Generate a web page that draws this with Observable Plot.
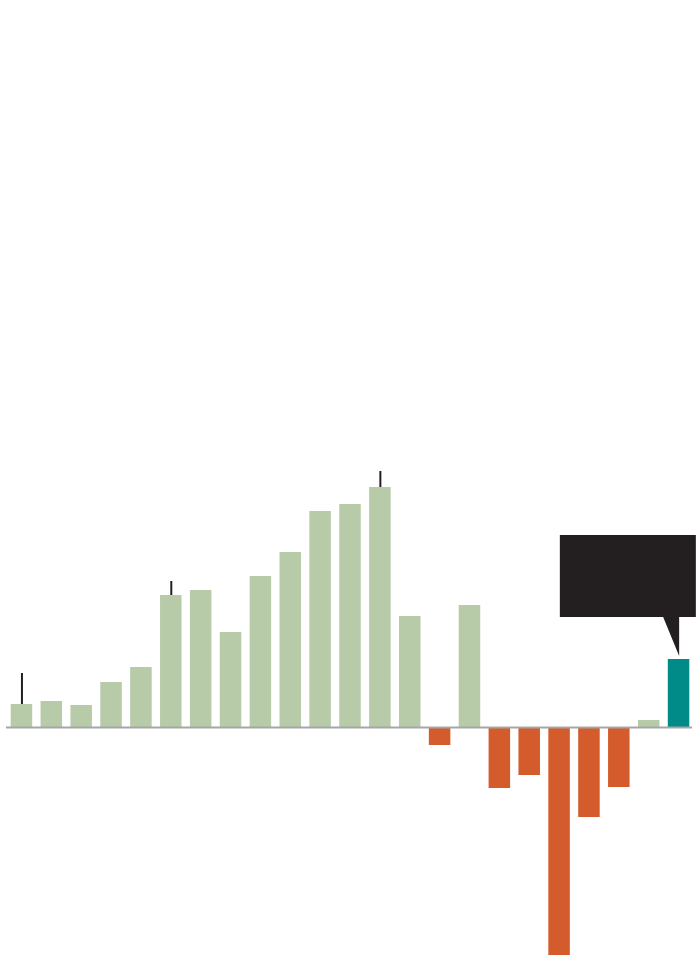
<!DOCTYPE html>
<html>
<head>
<meta charset="utf-8">
<script src="https://cdn.jsdelivr.net/npm/d3@7"></script>
<script src="https://cdn.jsdelivr.net/npm/@observablehq/plot@0.6"></script>
<style>
  html, body { margin: 0; padding: 0; background: #fff; }
  #chart svg { display: block; }
</style>
</head>
<body>
<div id="chart"></div>
<script>
// Categories (periods) and values
const periods = ["1","2","3","4","5","6","7","8","9","10","11","12","13","14","15","16","17","18","19","20","21","22","23"];
const values  = [2.3, 2.6, 2.2, 4.5, 6.0, 13.2, 13.7, 9.5, 15.1, 17.5, 21.6, 22.3, 24.0, 11.1, -1.8, 12.2, -6.1, -4.8, -22.8, -9.0, -6.0, 0.7, 6.8];
// Small marker ticks above selected bars (period, top value)
const tickPeriods = ["1", "6", "13"];
const tickTops    = [5.4, 14.6, 25.6];

const GREEN = "#b7cba9", ORANGE = "#d45b2c", TEAL = "#008b88", BOX = "#231f20";

const data = periods.map((p, i) => ({
  period: p,
  value: values[i],
  fill: i === periods.length - 1 ? TEAL : (values[i] >= 0 ? GREEN : ORANGE)
}));
const ticks = tickPeriods.map((p, i) => ({
  period: p,
  base: values[periods.indexOf(p)],
  top: tickTops[i]
}));

const plot = Plot.plot({
  width: 700,
  height: 964,
  marginTop: 0,
  marginBottom: 0,
  marginLeft: 6,
  marginRight: 8,
  x: { domain: periods, range: [10.7, 689.3], paddingInner: 0.28, paddingOuter: 0, round: false, axis: null },
  y: { domain: [-23.7, 72.7], range: [964, 0], axis: null },
  marks: [
    Plot.barY(data, { x: "period", y: "value", fill: "fill" }),
    Plot.ruleX(ticks, { x: "period", y1: "base", y2: "top", stroke: "#231f20", strokeWidth: 2 }),
    Plot.ruleY([0], { stroke: "#a6a6a6", strokeWidth: 2.2 })
  ]
});
document.getElementById("chart").appendChild(plot);

// Callout box pointing at the last bar
const xs = plot.scale("x"), ys = plot.scale("y");
const last = data[data.length - 1];
const cx = xs.apply(last.period) + xs.bandwidth / 2;
const tipY = ys.apply(last.value) - 3;
const boxLeft = cx - 118.7, boxRight = Math.min(cx + 17.3, 696);
const boxTop = ys.apply(19.2), boxBottom = ys.apply(11.0);
const path = [
  `M${boxLeft},${boxTop}`,
  `H${boxRight}`,
  `V${boxBottom}`,
  `H${cx + 0.6}`,
  `V${tipY}`,
  `L${cx - 15.4},${boxBottom}`,
  `H${boxLeft}`,
  "Z"
].join("");
d3.select(plot).append("path").attr("d", path).attr("fill", BOX);
</script>
</body>
</html>
